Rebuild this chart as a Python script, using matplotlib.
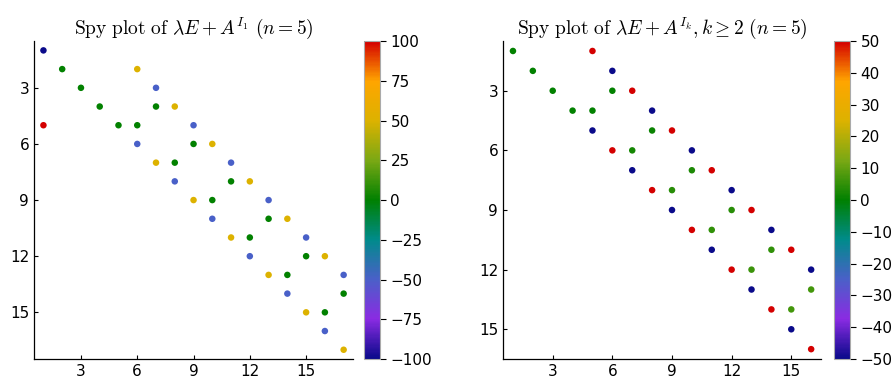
import numpy as np
import matplotlib
matplotlib.use("Agg")
from matplotlib import pyplot as plt
from matplotlib.colors import LinearSegmentedColormap

plt.rcParams['mathtext.fontset'] = 'cm'
plt.rcParams['font.family'] = 'DejaVu Sans'

# left matrix (17x17): row, column, value
rows_1 = [1, 2, 2, 3, 3, 4, 4, 4, 5, 5, 5, 5, 6, 6, 6, 7, 7, 7, 8, 8, 8,
          9, 9, 9, 10, 10, 10, 11, 11, 11, 12, 12, 12, 13, 13, 13, 14, 14,
          15, 15, 16, 17]
cols_1 = [1, 2, 6, 3, 7, 4, 7, 8, 1, 5, 6, 9, 6, 9, 10, 7, 8, 11, 8, 11, 12,
          9, 10, 13, 10, 13, 14, 11, 12, 15, 12, 15, 16, 13, 14, 17, 14, 17,
          15, 16, 16, 17]
vals_1 = [-100, 0, 50, 0, -50, 0, 0, 50, 100, 0, 0, -50, -50, 0, 50, 50, 0, -50,
          -50, 0, 50, 50, 0, -50, -50, 0, 50, 50, 0, -50, -50, 0, 50, 50, 0, -50,
          -50, 0, 50, 0, -50, 50]

# right matrix (16x16)
rows_k = [1, 1, 2, 2, 3, 3, 3, 4, 4, 4, 5, 5, 5, 6, 6, 6, 7, 7, 7, 8, 8, 8,
          9, 9, 9, 10, 10, 10, 11, 11, 11, 12, 12, 12, 13, 13, 14, 14, 15, 16]
cols_k = [1, 5, 2, 6, 3, 6, 7, 4, 5, 8, 5, 8, 9, 6, 7, 10, 7, 10, 11, 8, 9, 12,
          9, 12, 13, 10, 11, 14, 11, 14, 15, 12, 13, 16, 13, 16, 14, 15, 15, 16]
vals_k = [0, 50, 0, -50, 0, 0, 50, 0, 0, -50, -50, 1, 50, 50, 2, -50, -50, 3, 50,
          50, 4, -50, -50, 4, 50, 50, 5, -50, -50, 5, 50, 50, 6, -50, -50, 7,
          50, 7, -50, 50]

rainbow = LinearSegmentedColormap.from_list('rainbow_jl', [
    (0.0, '#0a0a8a'), (0.125, '#8a2be2'), (0.25, '#4a60c8'),
    (0.375, '#008b8b'), (0.5, '#008000'), (0.625, '#7aa814'),
    (0.75, '#dcb200'), (0.875, '#ffa500'), (1.0, '#d40000')])

fig = plt.figure(figsize=(8.96, 3.8), dpi=100)


def spy(ax_rect, cb_rect, rows, cols, vals, n, lim, cticks, title):
    ax = fig.add_axes(ax_rect)
    sc = ax.scatter(cols, rows, c=vals, cmap=rainbow, vmin=-lim, vmax=lim,
                    s=22, linewidths=0)
    ax.set_xlim(0.5, n + 0.5)
    ax.set_ylim(n + 0.5, 0.5)
    ax.set_xticks([3, 6, 9, 12, 15])
    ax.set_yticks([3, 6, 9, 12, 15])
    ax.tick_params(direction='in', length=3, labelsize=11, width=0.8)
    for s in ['top', 'right']:
        ax.spines[s].set_visible(False)
    for s in ['left', 'bottom']:
        ax.spines[s].set_linewidth(0.9)
    ax.set_title(title, fontsize=14, pad=5)

    cax = fig.add_axes(cb_rect)
    cb = fig.colorbar(sc, cax=cax, ticks=cticks)
    cb.outline.set_edgecolor('#aaaaaa')
    cb.outline.set_linewidth(0.8)
    cax.tick_params(direction='out', length=4, labelsize=11, width=0.8)
    return ax


spy([0.038, 0.055, 0.356, 0.837], [0.4063, 0.055, 0.0179, 0.837],
    rows_1, cols_1, vals_1, 17, 100, [-100, -75, -50, -25, 0, 25, 50, 75, 100],
    r'$\mathrm{Spy\ plot\ of\ }\lambda E + A^{I_1}\ (n = 5)$')

spy([0.5614, 0.055, 0.355, 0.837], [0.9308, 0.055, 0.0179, 0.837],
    rows_k, cols_k, vals_k, 16, 50, [-50, -40, -30, -20, -10, 0, 10, 20, 30, 40, 50],
    r'$\mathrm{Spy\ plot\ of\ }\lambda E + A^{I_k}, k \geq 2\ (n = 5)$')

fig.savefig('out.png', dpi=100)
